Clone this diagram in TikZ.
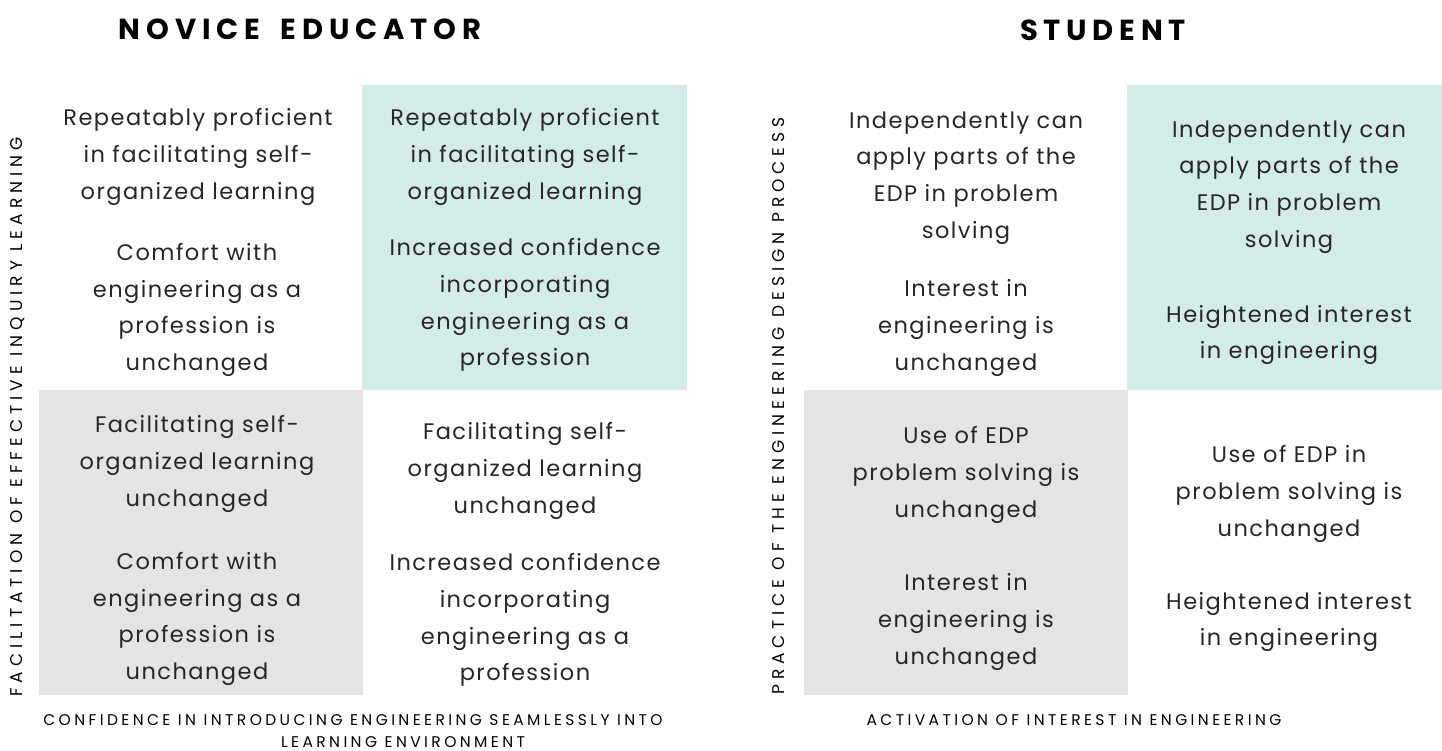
\documentclass[tikz,border=0pt]{standalone}
\usepackage{fontspec}
\setmainfont[LetterSpace=6.5]{Poppins}
\newfontfamily\headfont[LetterSpace=20]{Poppins}
\newfontfamily\axisfont[LetterSpace=22]{Poppins}
\newfontfamily\sideaxisfont[LetterSpace=29.5]{Poppins}
\usetikzlibrary{positioning}

\definecolor{tealcell}{RGB}{211,236,232}
\definecolor{graycell}{RGB}{228,228,228}

\begin{document}
\begin{tikzpicture}[
    x=1pt, y=-1pt,
    cell/.style={align=center, inner sep=0pt, font=\fontsize{22.5}{36.8}\selectfont, text=black!85},
    title/.style={inner sep=0pt, font=\headfont\bfseries\fontsize{29}{30}\selectfont},
    axis/.style={inner sep=0pt, align=center, font=\axisfont\fontsize{15.5}{24}\selectfont},
    sideaxis/.style={inner sep=0pt, rotate=90, font=\sideaxisfont\fontsize{17}{24}\selectfont}
]
    \useasboundingbox (0,0) rectangle (1442,751);

    % Shaded quadrants
    \fill[tealcell] (362,85) rectangle (687,390);
    \fill[graycell] (39,390) rectangle (363,695);
    \fill[tealcell] (1127,85) rectangle (1442,390);
    \fill[graycell] (804,390) rectangle (1128,695);

    % Titles
    \node[title] (educator) at (300,29) {NOVICE\hspace{9pt} EDUCATOR};
    \node[title] (student) at (1103,30) {STUDENT};

    % Axis labels
    \node[sideaxis] (facil) at (18,417) {FACILITATION OF EFFECTIVE INQUIRY LEARNING};
    \node[axis] (confid) at (353,720) {CONFIDENCE IN INTRODUCING ENGINEERING SEAMLESSLY INTO};
    \node[axis] (confid2) at (403,742) {LEARNING ENVIRONMENT};
    \node[sideaxis] (practice) at (779,406) {PRACTICE OF THE ENGINEERING DESIGN PROCESS};
    \node[axis] (activ) at (1074,720) {ACTIVATION OF INTEREST IN ENGINEERING};

    % Novice educator cells
    \node[cell] (etl1) at (198,157) {Repeatably proficient\\in facilitating self-\\organized learning};
    \node[cell] (etl2) at (197,310) {Comfort with\\engineering as a\\profession is\\unchanged};
    \node[cell] (etr1) at (525,157) {Repeatably proficient\\in facilitating self-\\organized learning};
    \node[cell] (etr2) at (525,305) {Increased confidence\\incorporating\\engineering as a\\profession};
    \node[cell] (ebl1) at (197,464) {Facilitating self-\\organized learning\\unchanged};
    \node[cell] (ebl2) at (197,619) {Comfort with\\engineering as a\\profession is\\unchanged};
    \node[cell] (ebr1) at (525,471) {Facilitating self-\\organized learning\\unchanged};
    \node[cell] (ebr2) at (525,620) {Increased confidence\\incorporating\\engineering as a\\profession};

    % Student cells
    \node[cell] (stl1) at (966,178) {Independently can\\apply parts of the\\EDP in problem\\solving};
    \node[cell] (stl2) at (966,328) {Interest in\\engineering is\\unchanged};
    \node[cell] (str1) at (1289,187) {Independently can\\apply parts of the\\EDP in problem\\solving};
    \node[cell] (str2) at (1289,335) {Heightened interest\\in engineering};
    \node[cell] (sbl1) at (966,475) {Use of EDP\\problem solving is\\unchanged};
    \node[cell] (sbl2) at (966,622) {Interest in\\engineering is\\unchanged};
    \node[cell] (sbr1) at (1289,494) {Use of EDP in\\problem solving is\\unchanged};
    \node[cell] (sbr2) at (1289,622) {Heightened interest\\in engineering};
\end{tikzpicture}
\end{document}
